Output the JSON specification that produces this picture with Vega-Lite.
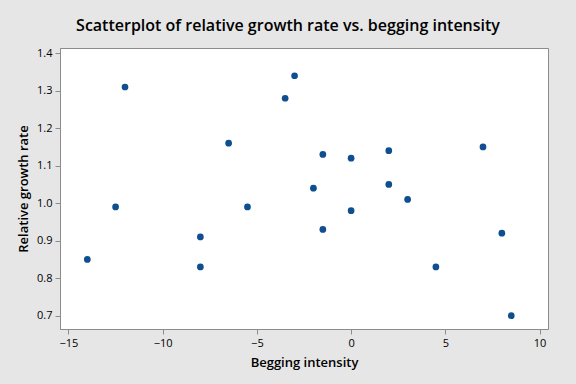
{
  "$schema": "https://vega.github.io/schema/vega-lite/v6.json",
  "width": 488,
  "height": 281,
  "autosize": {"type": "none"},
  "padding": {"left": 60, "top": 48, "right": 28, "bottom": 55},
  "background": "#e6e6e6",
  "title": {
    "text": "Scatterplot of relative growth rate vs. begging intensity",
    "font": "Open Sans",
    "fontSize": 16,
    "fontWeight": 600,
    "color": "#000000",
    "anchor": "middle",
    "dx": -16,
    "offset": 13
  },
  "config": {
    "view": {"fill": "#ffffff", "stroke": "#8c8c8c", "strokeWidth": 1},
    "axis": {
      "grid": false,
      "domainColor": "#8c8c8c",
      "tickColor": "#8c8c8c",
      "tickSize": 5,
      "labelFont": "Open Sans",
      "labelFontSize": 11,
      "labelColor": "#000000",
      "titleFont": "Open Sans",
      "titleFontSize": 13,
      "titleFontWeight": 600,
      "titleColor": "#000000"
    }
  },
  "data": {
    "values": [
      {"x": -14, "y": 0.85},
      {"x": -12.5, "y": 0.99},
      {"x": -12, "y": 1.31},
      {"x": -8, "y": 0.91},
      {"x": -8, "y": 0.83},
      {"x": -6.5, "y": 1.16},
      {"x": -5.5, "y": 0.99},
      {"x": -3.5, "y": 1.28},
      {"x": -3, "y": 1.34},
      {"x": -2, "y": 1.04},
      {"x": -1.5, "y": 1.13},
      {"x": -1.5, "y": 0.93},
      {"x": 0, "y": 1.12},
      {"x": 0, "y": 0.98},
      {"x": 2, "y": 1.14},
      {"x": 2, "y": 1.05},
      {"x": 3, "y": 1.01},
      {"x": 4.5, "y": 0.83},
      {"x": 7, "y": 1.15},
      {"x": 8, "y": 0.92},
      {"x": 8.5, "y": 0.70}
    ]
  },
  "mark": {"type": "point", "filled": true, "shape": "circle", "size": 45, "color": "#0f4f8f", "opacity": 1},
  "encoding": {
    "x": {
      "field": "x",
      "type": "quantitative",
      "title": "Begging intensity",
      "scale": {"domain": [-15.45, 10.45], "nice": false, "zero": false},
      "axis": {"values": [-15, -10, -5, 0, 5, 10], "titlePadding": 8, "labelPadding": 3}
    },
    "y": {
      "field": "y",
      "type": "quantitative",
      "title": "Relative growth rate",
      "scale": {"domain": [0.6645, 1.414], "nice": false, "zero": false},
      "axis": {"values": [0.7, 0.8, 0.9, 1.0, 1.1, 1.2, 1.3, 1.4], "format": ".1f", "titlePadding": 6, "labelPadding": 3}
    }
  }
}
